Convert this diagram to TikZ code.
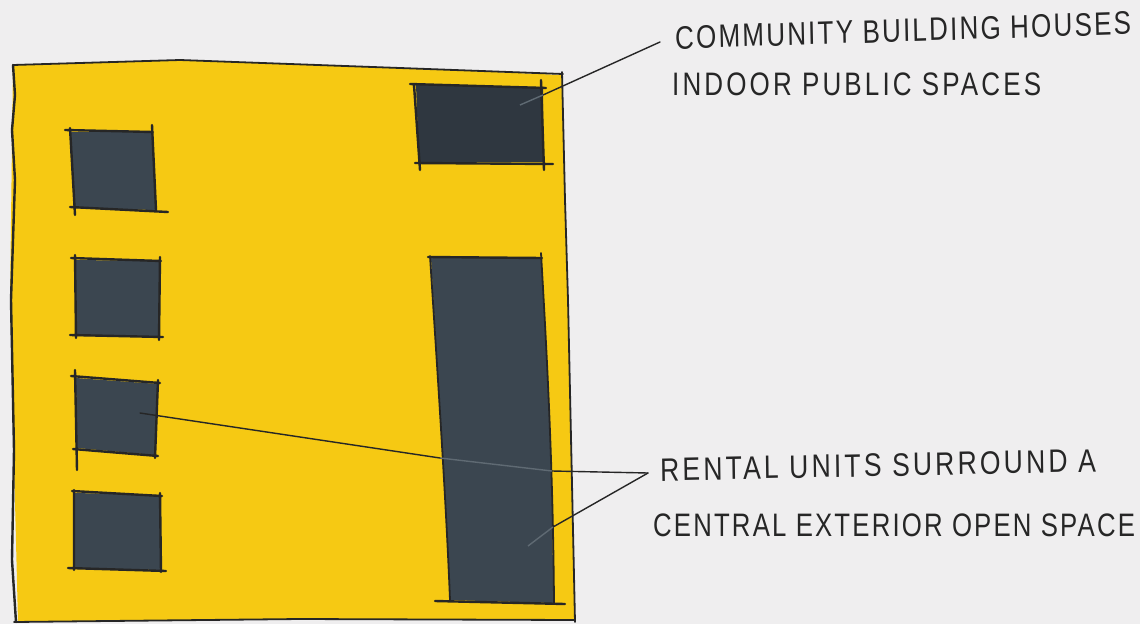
\documentclass[tikz,border=0pt]{standalone}
\usepackage{fontspec}
\setmainfont{Liberation Sans}
\newfontfamily\sketchfont[LetterSpace=8.5]{Liberation Sans}
\newfontfamily\sketchwide[LetterSpace=12]{Liberation Sans}
\definecolor{paperbg}{HTML}{EFEEEF}
\definecolor{siteyellow}{HTML}{F6C913}
\definecolor{roomslate}{HTML}{3B4650}
\definecolor{halldark}{HTML}{2F3740}
\definecolor{penink}{HTML}{262626}
\definecolor{penpale}{HTML}{5F6A73}
\begin{document}
\begin{tikzpicture}[
  x=1pt, y=-1pt,
  penline/.style={draw=penink, line width=1.8pt, line cap=round},
  heavypen/.style={draw=penink, line width=2.4pt, line cap=round},
  leaderline/.style={draw=penink, line width=1.4pt, line cap=round},
  leaderpale/.style={draw=penpale, line width=1.4pt},
  handnote/.style={anchor=west, inner sep=0pt, text=penink, yscale=1.25, transform shape, font=\sketchfont\fontsize{26}{26}\selectfont},
  handwide/.style={handnote, font=\sketchwide\fontsize{26}{26}\selectfont}
]
\useasboundingbox (0,0) rectangle (1140,624);
\fill[paperbg] (0,0) rectangle (1140,624);

% site
\fill[siteyellow] (13,65) -- (180,60) -- (400,68) -- (562,75) -- (568,300) -- (575,620) -- (300,619) -- (18,622) -- (10,300) -- cycle;
\draw[penline] (13,65) -- (180,60) -- (400,68) -- (563,74);
\draw[penline] (562,72) -- (565,200) -- (568,300) -- (575,622);
\draw[penline] (14,622) -- (300,619) -- (575,620);
\draw[heavypen] (13,65) -- (15,95) -- (12,130) -- (15,180) -- (11,300) -- (14,450) -- (12,560) -- (16,622);

% rooms on the left
\fill[roomslate] (70,132) -- (153,132) -- (156,210) -- (75,208) -- cycle;
\draw[heavypen] (65,130) -- (153,132) (152,125) -- (156,210) (70,128) -- (75,215) (70,207) -- (168,212);
\fill[roomslate] (75,260) -- (160,261) -- (159,336) -- (76,336) -- cycle;
\draw[heavypen] (71,258) -- (161,261) (160,257) -- (159,340) (75,255) -- (76,338) (70,335) -- (163,337);
\fill[roomslate] (76,378) -- (158,384) -- (155,455) -- (77,448) -- cycle;
\draw[heavypen] (71,376) -- (160,383) (158,380) -- (155,458) (75,370) -- (77,470) (73,449) -- (158,456);
\fill[roomslate] (75,493) -- (160,495) -- (160,570) -- (75,568) -- cycle;
\draw[heavypen] (72,491) -- (162,496) (160,493) -- (161,572) (74,490) -- (74,570) (68,568) -- (166,571);

% community building
\fill[halldark] (416,85) -- (543,87) -- (543,162) -- (419,162) -- cycle;
\draw[heavypen] (410,84) -- (546,88) (541,80) -- (544,170) (414,85) -- (420,170) (415,163) -- (553,164);

% long block
\fill[roomslate] (431,258) -- (541,258) .. controls (546,340) and (553,460) .. (553,603) -- (450,600) .. controls (446,500) and (438,380) .. (431,258) -- cycle;
\draw[heavypen] (428,257) -- (542,258) (435,601) -- (565,604);
\draw[penline] (541,253) .. controls (546,340) and (553,460) .. (554,604);
\draw[penline] (430,256) .. controls (438,380) and (446,500) .. (450,600);

% notes
\node[handnote, rotate=1.5] (note1) at (675,38) {COMMUNITY BUILDING HOUSES};
\node[handwide] (note2) at (672,84) {INDOOR PUBLIC SPACES};
\node[handwide, rotate=1, xscale=1.02] (note3) at (660,470) {RENTAL UNITS SURROUND A};
\node[handnote, xscale=.99] (note4) at (653,525) {CENTRAL EXTERIOR OPEN SPACE};

% leaders
\coordinate (hallend) at (520,105);
\coordinate (hallrim) at (543,95);
\coordinate (elbow) at (648,473);
\coordinate (unitend) at (140,413);
\coordinate (blockleft) at (440,458);
\coordinate (blockright) at (552,471);
\coordinate (openend) at (528,546);
\coordinate (openrim) at (553,527);
\draw[leaderline] (note1.west) ++(-15,4) -- (hallrim);
\draw[leaderpale] (hallrim) -- (hallend);
\draw[leaderline] (elbow) -- (blockright);
\draw[leaderpale] (blockright) -- (blockleft);
\draw[leaderline] (blockleft) -- (unitend);
\draw[leaderline] (elbow) -- (openrim);
\draw[leaderpale] (openrim) -- (openend);
\end{tikzpicture}
\end{document}
